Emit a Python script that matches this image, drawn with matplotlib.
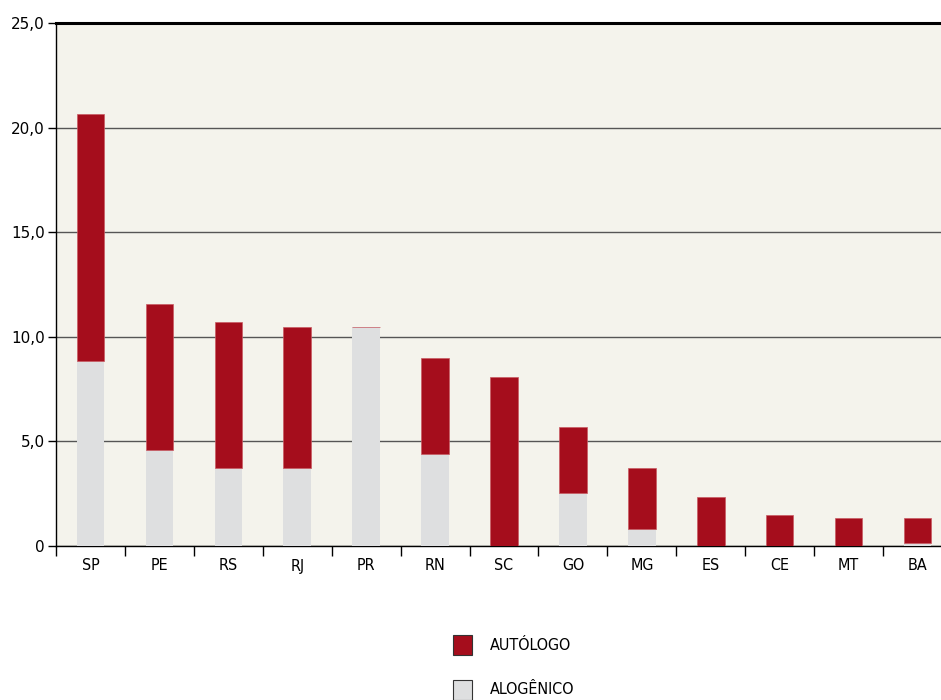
import matplotlib
matplotlib.use('Agg')
import matplotlib.pyplot as plt
from matplotlib.patches import Rectangle
from matplotlib.ticker import FuncFormatter, FixedLocator

# Data
estados = ['SP', 'PE', 'RS', 'RJ', 'PR', 'RN', 'SC', 'GO', 'MG', 'ES', 'CE', 'MT', 'BA']
alogenico = [8.85, 4.6, 3.75, 3.75, 10.45, 4.4, 0.0, 2.55, 0.8, 0.0, 0.0, 0.0, 0.15]
autologo = [11.8, 6.95, 6.95, 6.7, 0.0, 4.6, 8.1, 3.15, 2.95, 2.35, 1.5, 1.35, 1.2]
legenda = ['AUTÓLOGO', 'ALOGÊNICO']

RED = '#A50D1C'
GRAY = '#DEDFE0'
BG = '#F4F3EC'
W, H = 941, 700

fig = plt.figure(figsize=(W / 100, H / 100), dpi=100)
# the plot area runs a little past the right edge of the image
ax = fig.add_axes([56 / W, 154 / H, 896 / W, 523 / H])
ax.set_facecolor(BG)

x = list(range(len(estados)))
ax.bar(x, alogenico, width=0.4, color=GRAY, zorder=3)
ax.bar(x, autologo, width=0.4, bottom=alogenico, color=RED,
       edgecolor='#C85A63', linewidth=0.5, zorder=3)

ax.set_xlim(-0.5, len(estados) - 0.5)
ax.set_ylim(0, 25)
ax.set_yticks([0, 5, 10, 15, 20, 25])
ax.yaxis.set_major_formatter(FuncFormatter(
    lambda v, p: '0' if v == 0 else f'{v:.1f}'.replace('.', ',')))
ax.grid(axis='y', color='#555555', linewidth=1.0, zorder=1)

ax.xaxis.set_major_locator(FixedLocator(x))
ax.set_xticklabels(estados, fontsize=11.5, fontstretch='condensed')
ax.xaxis.set_minor_locator(FixedLocator([i + 0.5 for i in range(-1, len(estados))]))
ax.tick_params(axis='x', which='major', length=0, pad=9)
ax.tick_params(axis='x', which='minor', length=7, width=1, color='black')
ax.tick_params(axis='y', length=6, width=1, labelsize=11, pad=2)

for s in ['left', 'bottom']:
    ax.spines[s].set_linewidth(1.0)
ax.spines['top'].set_linewidth(2.2)
ax.spines['right'].set_visible(False)

# legend drawn by hand
colors = [RED, GRAY]
for i, (lab, c) in enumerate(zip(legenda, colors)):
    yc = 645 + 45 * i
    fig.add_artist(Rectangle((453 / W, 1 - (yc + 10) / H), 19 / W, 20 / H,
                             transform=fig.transFigure, facecolor=c,
                             edgecolor='#333333', linewidth=0.8))
    fig.text(490 / W, 1 - yc / H, lab, fontsize=11.5, fontstretch='condensed',
             va='center', ha='left')

fig.savefig('out.png', dpi=100, facecolor='white')
